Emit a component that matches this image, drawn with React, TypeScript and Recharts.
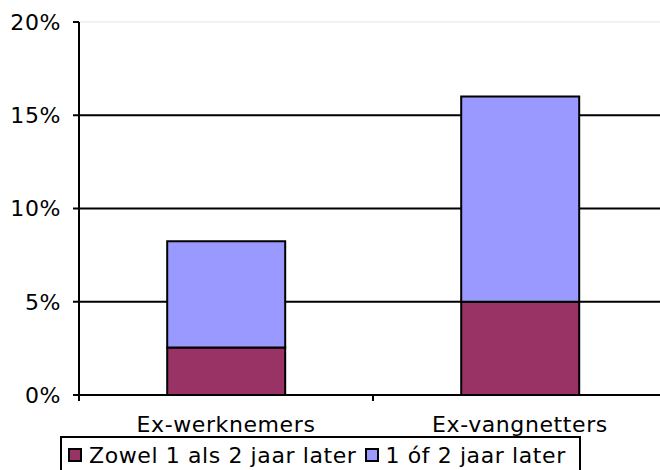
import React from "react";
import {
  BarChart,
  Bar,
  XAxis,
  YAxis,
  CartesianGrid,
  ReferenceLine,
  Legend,
} from "recharts";

const categories = ["Ex-werknemers", "Ex-vangnetters"];
const bothYears = [2.55, 5.0];
const eitherYear = [5.7, 11.0];
const seriesNames = ["Zowel 1 als 2 jaar later", "1 óf 2 jaar later"];
const seriesColors = ["#993366", "#9999FF"];
const yTicks = [0, 5, 10, 15, 20];
const gridValues = [5, 10, 15];

const data = categories.map((name, i) => ({
  name,
  both: bothYears[i],
  either: eitherYear[i],
}));

const FONT = "'DejaVu Sans', Verdana, sans-serif";
const SPACING = 0.6;

// category label plus the tick marks between categories (Excel style)
function CategoryTick(props: any) {
  const { x, y, payload, index, visibleTicksCount, width } = props;
  const half = width / visibleTicksCount / 2;
  const axisY = y - 21;
  return (
    <g>
      <line x1={x + half} x2={x + half} y1={axisY} y2={axisY + 6} stroke="#000" strokeWidth={2} />
      {index === 0 && (
        <line x1={x - half} x2={x - half} y1={axisY} y2={axisY + 6} stroke="#000" strokeWidth={2} />
      )}
      <text
        x={x}
        y={y}
        dy="0.71em"
        textAnchor="middle"
        fill="#000"
        fontSize={22}
        fontFamily={FONT}
        letterSpacing={SPACING}
      >
        {payload.value}
      </text>
    </g>
  );
}

function LegendBox() {
  return (
    <div
      style={{
        display: "flex",
        alignItems: "center",
        fontFamily: FONT,
        fontSize: 22,
        lineHeight: "26px",
        letterSpacing: SPACING,
        color: "#000",
        whiteSpace: "nowrap",
      }}
    >
      {seriesNames.map((n, i) => (
        <span
          key={n}
          style={{ display: "flex", alignItems: "center", marginRight: i === 0 ? 8 : 0 }}
        >
          <span
            style={{
              display: "inline-block",
              width: 10,
              height: 10,
              border: "2px solid #000",
              background: seriesColors[i],
              marginRight: 7,
              marginTop: -2,
            }}
          />
          {n}
        </span>
      ))}
    </div>
  );
}

export default function App() {
  return (
    <div
      style={{
        position: "absolute",
        left: 0,
        top: 0,
        width: 660,
        height: 470,
        overflow: "hidden",
        background: "#fff",
        fontFamily: FONT,
      }}
    >
      <BarChart
        width={680}
        height={470}
        data={data}
        margin={{ top: 22, right: 13, left: 0, bottom: 73 }}
        barCategoryGap="30%"
      >
        <CartesianGrid
          vertical={false}
          horizontalValues={gridValues}
          stroke="#000"
          strokeWidth={2}
          strokeDasharray=""
        />
        <ReferenceLine y={20} stroke="#eeeeee" strokeWidth={1.5} />
        <XAxis
          dataKey="name"
          height={2}
          interval={0}
          tickLine={false}
          tickSize={6}
          tickMargin={15}
          axisLine={{ stroke: "#000", strokeWidth: 2 }}
          tick={<CategoryTick />}
        />
        <YAxis
          width={79}
          domain={[0, 20]}
          ticks={yTicks}
          tickFormatter={(v) => `${v}%`}
          tickSize={6}
          tickMargin={12}
          tickLine={{ stroke: "#000", strokeWidth: 2 }}
          axisLine={{ stroke: "#000", strokeWidth: 2 }}
          tick={{ fill: "#000", fontSize: 22, fontFamily: FONT, letterSpacing: SPACING }}
        />
        <Bar
          dataKey="both"
          name={seriesNames[0]}
          stackId="a"
          fill={seriesColors[0]}
          stroke="#000"
          strokeWidth={2}
          isAnimationActive={false}
        />
        <Bar
          dataKey="either"
          name={seriesNames[1]}
          stackId="a"
          fill={seriesColors[1]}
          stroke="#000"
          strokeWidth={2}
          isAnimationActive={false}
        />
        <Legend
          layout="horizontal"
          verticalAlign="middle"
          align="center"
          content={() => <LegendBox />}
          wrapperStyle={{
            position: "absolute",
            left: 60,
            top: 436,
            width: 511,
            height: 40,
            border: "2px solid #000",
            background: "#fff",
            paddingLeft: 6,
            paddingTop: 5,
            boxSizing: "content-box",
          }}
        />
      </BarChart>
    </div>
  );
}
